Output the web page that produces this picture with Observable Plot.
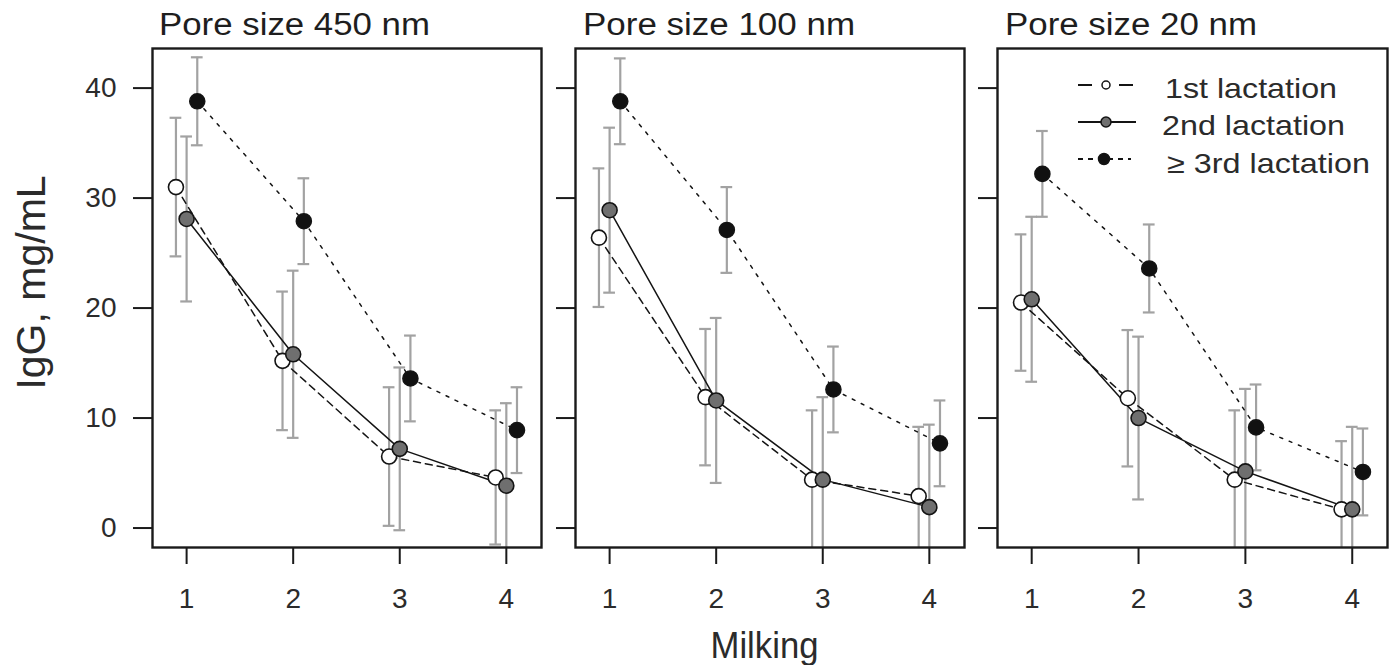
<!DOCTYPE html>
<html>
<head>
<meta charset="utf-8">
<script src="https://cdn.jsdelivr.net/npm/d3@7"></script>
<script src="https://cdn.jsdelivr.net/npm/@observablehq/plot@0.6"></script>
<style>
  body { margin: 0; background: #fff; }
  #root { position: relative; width: 1389px; height: 665px; overflow: hidden; font-family: "Liberation Sans", Arial, sans-serif; }
  #root > svg, #root > figure { position: absolute; top: 0; margin: 0; }
</style>
</head>
<body>
<div id="root"></div>
<script>
// ---------------- data ----------------
const milking = [1, 2, 3, 4];
const yTicks = [0, 10, 20, 30, 40];
const panelTitles = ["Pore size 450 nm", "Pore size 100 nm", "Pore size 20 nm"];
const lactations = ["1st lactation", "2nd lactation", "\u2265 3rd lactation"];

// IgG means (mg/mL)
const igg450_1st = [31.0, 15.2, 6.5, 4.6];
const igg450_2nd = [28.1, 15.8, 7.2, 3.85];
const igg450_3rd = [38.8, 27.9, 13.6, 8.9];
const igg100_1st = [26.4, 11.9, 4.4, 2.9];
const igg100_2nd = [28.9, 11.6, 4.4, 1.9];
const igg100_3rd = [38.8, 27.1, 12.6, 7.7];
const igg20_1st = [20.5, 11.8, 4.4, 1.7];
const igg20_2nd = [20.8, 10.0, 5.15, 1.7];
const igg20_3rd = [32.2, 23.6, 9.15, 5.1];

// error bar half-widths (mg/mL)
const err450_1st = [6.3, 6.3, 6.3, 6.1];
const err450_2nd = [7.5, 7.6, 7.4, 7.5];
const err450_3rd = [4.0, 3.9, 3.9, 3.9];
const err100_1st = [6.3, 6.2, 6.3, 6.3];
const err100_2nd = [7.5, 7.5, 7.5, 7.5];
const err100_3rd = [3.9, 3.9, 3.9, 3.9];
const err20_1st = [6.2, 6.2, 6.3, 6.2];
const err20_2nd = [7.5, 7.4, 7.5, 7.5];
const err20_3rd = [3.9, 4.0, 3.9, 3.95];

// ---------------- build tables ----------------
const panelMeans = [
  [igg450_1st, igg450_2nd, igg450_3rd],
  [igg100_1st, igg100_2nd, igg100_3rd],
  [igg20_1st, igg20_2nd, igg20_3rd]
];
const panelErrs = [
  [err450_1st, err450_2nd, err450_3rd],
  [err100_1st, err100_2nd, err100_3rd],
  [err20_1st, err20_2nd, err20_3rd]
];
const dodge = [-0.1, 0, 0.1];
const fills = ["#ffffff", "#6f6f6f", "#111111"];
const dashes = ["7,5", null, "3,7"];

// layout of each panel svg: [svgLeft, svgWidth, marginLeft]
const layout = [
  [0, 543, 152],
  [545, 421, 30],
  [970, 419, 27]
];

const root = document.getElementById("root");
const font = "Liberation Sans, Arial, sans-serif";

panelTitles.forEach((title, p) => {
  const rows = [];
  lactations.forEach((lac, s) => {
    milking.forEach((m, i) => {
      const v = panelMeans[p][s][i], e = panelErrs[p][s][i];
      rows.push({lac, s, m, xp: m + dodge[s], v, lo: v - e, hi: v + e});
    });
  });
  const [left, width, ml] = layout[p];
  const capHalf = 0.055;
  const marks = [
    Plot.axisX({ticks: milking, tickSize: 17, tickPadding: 24, tickFormat: d => String(d), label: null, strokeWidth: 2, stroke: "#1a1a1a"}),
    Plot.axisY({ticks: yTicks, tickSize: 19, tickPadding: 17, tickFormat: p === 0 ? (d => String(d)) : (() => ""), label: null, strokeWidth: 2, stroke: "#1a1a1a"}),
    Plot.ruleX(rows, {x: "xp", y1: "lo", y2: "hi", stroke: "#a2a2a2", strokeWidth: 2.2, clip: true}),
    Plot.ruleY(rows, {y: "hi", x1: d => d.xp - capHalf, x2: d => d.xp + capHalf, stroke: "#a2a2a2", strokeWidth: 2.2, clip: true}),
    Plot.ruleY(rows, {y: "lo", x1: d => d.xp - capHalf, x2: d => d.xp + capHalf, stroke: "#a2a2a2", strokeWidth: 2.2, clip: true})
  ];
  lactations.forEach((lac, s) => {
    marks.push(Plot.line(rows.filter(d => d.s === s), {x: "xp", y: "v", stroke: "#141414", strokeWidth: 1.5, strokeDasharray: dashes[s]}));
  });
  lactations.forEach((lac, s) => {
    marks.push(Plot.dot(rows.filter(d => d.s === s), {x: "xp", y: "v", r: 7.5, fill: fills[s], stroke: "#141414", strokeWidth: 1.6}));
  });
  marks.push(Plot.frame({stroke: "#1a1a1a", strokeWidth: 2.4}));

  const svg = Plot.plot({
    width, height: 620,
    marginLeft: ml, marginRight: 2, marginTop: 48, marginBottom: 73,
    style: {fontFamily: font, fontSize: "28px", color: "#2b2b2b", background: "transparent", overflow: "visible"},
    x: {domain: [0.68, 4.33]},
    y: {domain: [-1.77, 43.6]},
    marks
  });
  svg.style.left = left + "px";
  root.appendChild(svg);
});

// ---------------- overlay texts + legend ----------------
const ov = d3.select(root).append("svg")
  .attr("width", 1389).attr("height", 665)
  .style("position", "absolute").style("left", "0px").style("top", "0px")
  .style("font-family", font).style("pointer-events", "none");

const titleX = [159, 583, 1005];
const titleW = [271, 272, 252];
panelTitles.forEach((t, p) => {
  ov.append("text").attr("x", titleX[p]).attr("y", 35)
    .attr("font-size", 31).attr("fill", "#1e1e1e")
    .attr("textLength", titleW[p]).attr("lengthAdjust", "spacingAndGlyphs")
    .text(t);
});

ov.append("text").attr("transform", "translate(45,282.5) rotate(-90)")
  .attr("text-anchor", "middle").attr("font-size", 41).attr("fill", "#2b2b2b")
  .text("IgG, mg/mL");

ov.append("text").attr("x", 710.5).attr("y", 657.5)
  .attr("font-size", 37).attr("fill", "#2b2b2b")
  .attr("textLength", 108).attr("lengthAdjust", "spacingAndGlyphs")
  .text("Milking");

// legend
const legRowY = [85, 122, 159];
const legTextX = [1165, 1162, 1167];
const legTextY = [98, 135, 173];
const legTextW = [172, 183, 203];
const legR = [4, 5, 5.5];
const legDash = ["14,27", null, "5,5"];
lactations.forEach((lac, s) => {
  const g = ov.append("g");
  g.append("line").attr("x1", 1078).attr("x2", s === 2 ? 1131 : 1136)
    .attr("y1", legRowY[s]).attr("y2", legRowY[s])
    .attr("stroke", "#141414").attr("stroke-width", 1.8)
    .attr("stroke-dasharray", legDash[s]);
  g.append("circle").attr("cx", s === 2 ? 1104 : 1106).attr("cy", legRowY[s]).attr("r", legR[s])
    .attr("fill", fills[s]).attr("stroke", "#141414").attr("stroke-width", 1.5);
  g.append("text").attr("x", legTextX[s]).attr("y", legTextY[s])
    .attr("font-size", 28).attr("fill", "#2b2b2b")
    .attr("textLength", legTextW[s]).attr("lengthAdjust", "spacingAndGlyphs")
    .text(lac);
});
</script>
</body>
</html>
